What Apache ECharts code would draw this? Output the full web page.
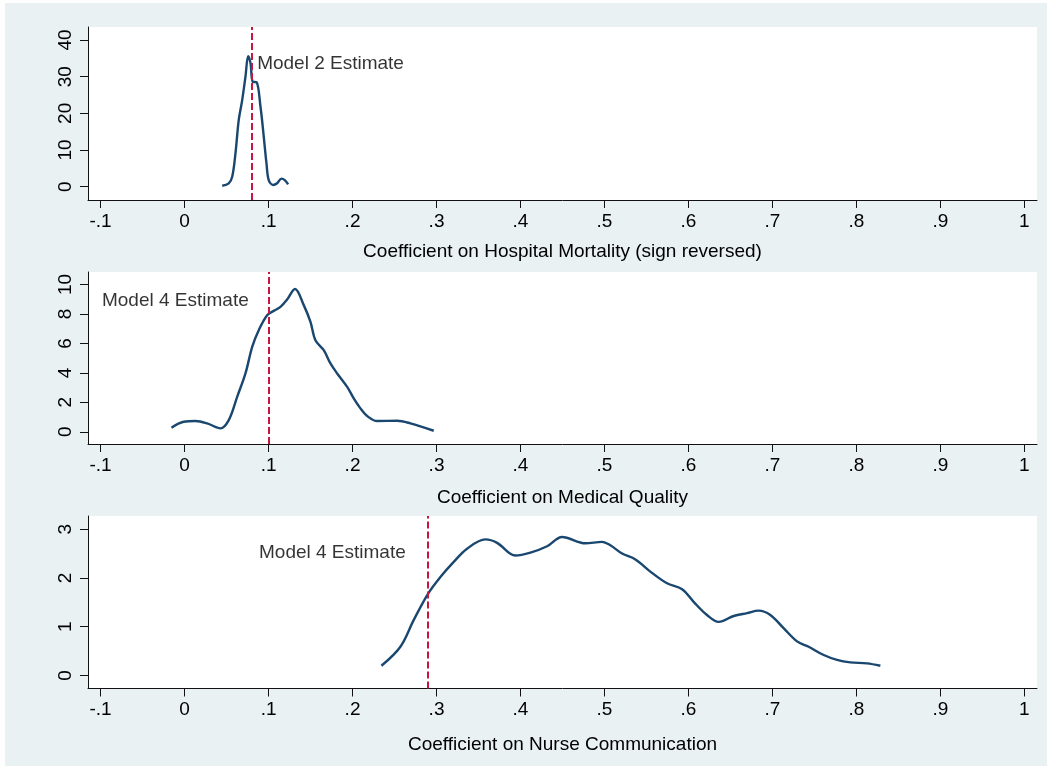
<!DOCTYPE html>
<html>
<head>
<meta charset="utf-8">
<script src="https://cdn.jsdelivr.net/npm/echarts@6/dist/echarts.min.js"></script>
<style>
html,body{margin:0;padding:0;background:#ffffff;}
#chart{width:1051px;height:769px;}
</style>
</head>
<body>
<div id="chart"></div>
<script>
// ---- Data ----
const xTickValues = [-0.1, 0, 0.1, 0.2, 0.3, 0.4, 0.5, 0.6, 0.7, 0.8, 0.9, 1];
const xTickLabels = ['-.1', '0', '.1', '.2', '.3', '.4', '.5', '.6', '.7', '.8', '.9', '1'];

const y1Ticks = [0, 10, 20, 30, 40];
const y2Ticks = [0, 2, 4, 6, 8, 10];
const y3Ticks = [0, 1, 2, 3];

const titles = [
  'Coefficient on Hospital Mortality (sign reversed)',
  'Coefficient on Medical Quality',
  'Coefficient on Nurse Communication'
];

const estimates = [0.0796, 0.1, 0.29];
const estimateLabels = ['Model 2 Estimate', 'Model 4 Estimate', 'Model 4 Estimate'];
const labelAnchorX = [0.0858, -0.099, 0.088];
const labelAnchorY = [33.6, 8.93, 2.51];

// Panel 1: Hospital Mortality density
const p1X = [0.0448,0.0526,0.0567,0.0606,0.0645,0.0686,0.0725,0.0757,0.0785,0.0812,0.0856,0.0904,0.0943,0.0975,0.1002,0.1055,0.1102,0.1154,0.1193,0.1233];
const p1Y = [0.27,0.93,2.7,9.1,18.2,23.6,30.0,35.6,33.7,28.6,28.5,21.8,13.6,6.4,1.8,0.46,0.93,2.2,1.8,0.65];

// Panel 2: Medical Quality density
const p2X = [-0.0156,-0.001,0.013,0.0269,0.0427,0.0526,0.0626,0.0725,0.0805,0.0883,0.0983,0.1062,0.1142,0.1221,0.1315,0.1419,0.1499,0.1558,0.1657,0.1737,0.1817,0.1936,0.2014,0.2094,0.2174,0.2293,0.2531,0.2689,0.2967];
const p2Y = [0.27,0.68,0.73,0.57,0.23,0.79,2.37,3.96,5.77,6.9,7.92,8.21,8.48,8.98,9.7,8.6,7.46,6.22,5.54,4.64,3.96,3.05,2.27,1.59,1.07,0.73,0.75,0.57,0.07];

// Panel 3: Nurse Communication density
const p3X = [0.2344,0.257,0.2729,0.29,0.3046,0.3205,0.3364,0.3582,0.3721,0.3939,0.4118,0.4317,0.4495,0.4773,0.4971,0.507,0.521,0.5368,0.5546,0.5745,0.5924,0.6062,0.6221,0.636,0.6538,0.6698,0.6836,0.6975,0.7133,0.7293,0.7431,0.761,0.7769,0.7927,0.8126,0.8285];
const p3Y = [0.2,0.59,1.14,1.68,2.02,2.33,2.60,2.79,2.72,2.46,2.52,2.65,2.84,2.71,2.74,2.67,2.50,2.38,2.13,1.89,1.77,1.51,1.24,1.10,1.22,1.28,1.33,1.24,0.97,0.70,0.59,0.42,0.32,0.27,0.25,0.20];

// ---- Styling / layout ----
const FONT = '"Liberation Sans", Arial, Helvetica, sans-serif';
const LINE_COLOR = '#1a476f';
const EST_COLOR = '#c8163f';
const AXIS_COLOR = '#111111';
const FS = 19;

const grids = [
  {left: 88, right: 14, top: 27, height: 173},
  {left: 88, right: 14, top: 272, height: 172},
  {left: 88, right: 14, top: 516, height: 172.5}
];
const nameGaps = [42, 44, 47];
const yRanges = [[-3.63, 43.55], [-0.83, 10.85], [-0.266, 3.27]];
const yTicksAll = [y1Ticks, y2Ticks, y3Ticks];
const pointsX = [p1X, p2X, p3X];
const pointsY = [p1Y, p2Y, p3Y];

function xLabel(v) {
  const i = xTickValues.findIndex(t => Math.abs(t - v) < 1e-9);
  return i >= 0 ? xTickLabels[i] : '';
}

const chart = echarts.init(document.getElementById('chart'), null, {renderer: 'canvas'});

const option = {
  animation: false,
  backgroundColor: '#ffffff',
  graphic: [{
    type: 'rect', z: -10, silent: true,
    shape: {x: 5, y: 3, width: 1042, height: 763},
    style: {fill: '#e9f1f3'}
  }],
  textStyle: {fontFamily: FONT},
  grid: grids.map(g => Object.assign({show: true, backgroundColor: '#ffffff', borderWidth: 0}, g)),
  xAxis: [0, 1, 2].map(i => ({
    type: 'value', gridIndex: i, min: -0.115, max: 1.015,
    axisLine: {show: true, onZero: false, lineStyle: {color: AXIS_COLOR, width: 1}},
    axisTick: {show: true, length: 8, customValues: xTickValues, lineStyle: {color: AXIS_COLOR, width: 1}},
    axisLabel: {customValues: xTickValues, formatter: xLabel, fontSize: FS, color: '#000', margin: 12, fontFamily: FONT},
    splitLine: {show: false},
    name: titles[i], nameLocation: 'middle', nameGap: nameGaps[i],
    nameTextStyle: {fontSize: FS, color: '#000', fontFamily: FONT}
  })),
  yAxis: [0, 1, 2].map(i => ({
    type: 'value', gridIndex: i, min: yRanges[i][0], max: yRanges[i][1],
    axisLine: {show: true, onZero: false, lineStyle: {color: AXIS_COLOR, width: 1}},
    axisTick: {show: true, length: 8, customValues: yTicksAll[i], lineStyle: {color: AXIS_COLOR, width: 1}},
    axisLabel: {customValues: yTicksAll[i], rotate: 90, fontSize: FS, color: '#000', margin: 13, fontFamily: FONT},
    splitLine: {show: false}
  })),
  series: []
};

for (let i = 0; i < 3; i++) {
  option.series.push({
    type: 'line', xAxisIndex: i, yAxisIndex: i,
    data: pointsX[i].map((x, k) => [x, pointsY[i][k]]),
    showSymbol: false, smooth: 0.35,
    lineStyle: {color: LINE_COLOR, width: 2.4},
    z: 3,
    markLine: {
      silent: true, symbol: 'none', animation: false,
      label: {show: false},
      lineStyle: {color: EST_COLOR, width: 2, type: [7, 3]},
      data: [{xAxis: estimates[i]}]
    }
  });
  option.series.push({
    type: 'scatter', xAxisIndex: i, yAxisIndex: i,
    data: [[labelAnchorX[i], labelAnchorY[i]]],
    symbolSize: 1, itemStyle: {color: 'rgba(0,0,0,0)'},
    silent: true, z: 4,
    label: {show: true, position: 'right', distance: 0, formatter: estimateLabels[i],
      fontSize: FS, color: '#000', fontFamily: FONT}
  });
}

chart.setOption(option);
</script>
</body>
</html>
